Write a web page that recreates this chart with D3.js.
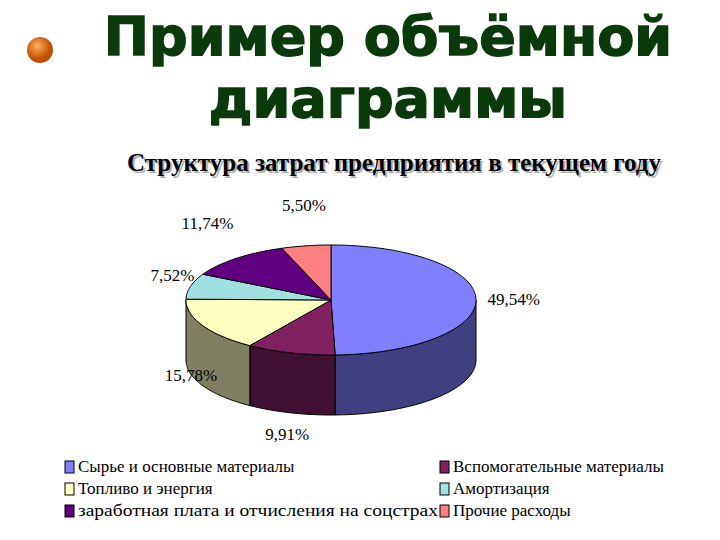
<!DOCTYPE html>
<html><head><meta charset="utf-8">
<script src="https://cdn.jsdelivr.net/npm/d3@7"></script>
<style>body{margin:0;background:#fff}</style>
</head><body>
<svg id="chart" width="720" height="540"></svg>
<script>
// data
var categories = ['Сырье и основные материалы', 'Вспомогательные материалы', 'Топливо и энергия',
  'Амортизация', 'заработная плата и отчисления на соцстрах', 'Прочие расходы'];
var values = [49.54, 9.91, 15.78, 7.52, 11.74, 5.50];
var labels = ['49,54%', '9,91%', '15,78%', '7,52%', '11,74%', '5,50%'];
var topColors = ['#8080ff', '#802060', '#ffffc0', '#a0e0e0', '#600080', '#ff8080'];
var sideColors = ['#404080', '#401030', '#808060', '#508080', '#300040', '#804040'];

var svg = d3.select('#chart');

// bullet
var grad = svg.append('defs').append('radialGradient').attr('id', 'ball').attr('cx', '40%').attr('cy', '35%');
grad.append('stop').attr('offset', '0%').attr('stop-color', '#ffb060');
grad.append('stop').attr('offset', '100%').attr('stop-color', '#c05000');
svg.append('circle').attr('cx', 40).attr('cy', 50).attr('r', 13).attr('fill', 'url(#ball)');

svg.selectAll('text.title').data(['Пример объёмной', 'диаграммы']).enter().append('text')
  .attr('x', 388).attr('y', function (d, i) { return 55 + i * 62; })
  .attr('text-anchor', 'middle').attr('font-family', 'DejaVu Sans').attr('font-weight', 'bold')
  .attr('font-size', 54).attr('fill', '#0a3a0a').attr('stroke', '#0a3a0a').attr('stroke-width', 1.5)
  .text(function (d) { return d; });

var sub = 'Структура затрат предприятия в текущем году';
svg.append('text').attr('x', 396).attr('y', 173).attr('text-anchor', 'middle')
  .attr('font-family', 'Liberation Serif').attr('font-weight', 'bold').attr('font-size', 25)
  .attr('fill', '#b0b0b0').text(sub);
svg.append('text').attr('x', 394).attr('y', 171).attr('text-anchor', 'middle')
  .attr('font-family', 'Liberation Serif').attr('font-weight', 'bold').attr('font-size', 25)
  .attr('fill', '#000').text(sub);

// 3D pie
var cx = 331, cy = 300, rx = 145, ry = 55, depth = 60;
var arcs = d3.pie().sort(null).startAngle(0).endAngle(2 * Math.PI)(values);
function pt(a, dy) { return [cx + rx * Math.sin(a), cy - ry * Math.cos(a) + (dy || 0)]; }
function arcPts(a0, a1, dy) {
  var n = Math.max(2, Math.ceil((a1 - a0) / 0.02)), p = [];
  for (var i = 0; i <= n; i++) p.push(pt(a0 + (a1 - a0) * i / n, dy));
  return p;
}
var line = d3.line();
var g = svg.append('g').attr('stroke', '#000').attr('stroke-width', 1);

// outer walls on the front half
arcs.forEach(function (d, i) {
  var a0 = Math.max(d.startAngle, Math.PI / 2), a1 = Math.min(d.endAngle, 3 * Math.PI / 2);
  if (a1 <= a0) return;
  var pts = arcPts(a0, a1, 0).concat(arcPts(a0, a1, depth).reverse());
  g.append('path').attr('d', line(pts) + 'Z').attr('fill', sideColors[i]);
});
// tops
arcs.forEach(function (d, i) {
  var pts = [[cx, cy]].concat(arcPts(d.startAngle, d.endAngle, 0));
  g.append('path').attr('d', line(pts) + 'Z').attr('fill', topColors[i]);
});

// labels
arcs.forEach(function (d, i) {
  var a = (d.startAngle + d.endAngle) / 2, s = Math.sin(a), c = Math.cos(a);
  var x = cx + rx * 1.08 * s, y = cy - ry * (c > 0 ? 1.75 : 1.45) * c + 6 + (c < 0 ? depth * (-c) : 0);
  var anchor = Math.abs(s) < 0.35 ? 'middle' : (s > 0 ? 'start' : 'end');
  if (c < -0.3 && s < -0.5) { y += 10; x += 25; }
  if (c > 0.2 && s < -0.5) { x += 5; y -= 4; }
  if (Math.abs(s) > 0.9 && s < 0) { x += 10; y += 3; }
  svg.append('text').attr('x', x).attr('y', y).attr('text-anchor', anchor)
    .attr('font-family', 'Liberation Serif').attr('font-size', 17).text(labels[i]);
});

// legend
var leg = svg.append('g').attr('font-family', 'Liberation Serif').attr('font-size', 17);
categories.forEach(function (name, i) {
  var x = i % 2 ? 440 : 65, y = 472 + Math.floor(i / 2) * 22;
  leg.append('rect').attr('x', x).attr('y', y - 11).attr('width', 9).attr('height', 12)
    .attr('fill', topColors[i]).attr('stroke', '#000');
  var t = leg.append('text').attr('x', x + 13).attr('y', y).text(name);
  if (i === 4) t.attr('textLength', 360).attr('lengthAdjust', 'spacingAndGlyphs');
});
</script>
</body></html>
